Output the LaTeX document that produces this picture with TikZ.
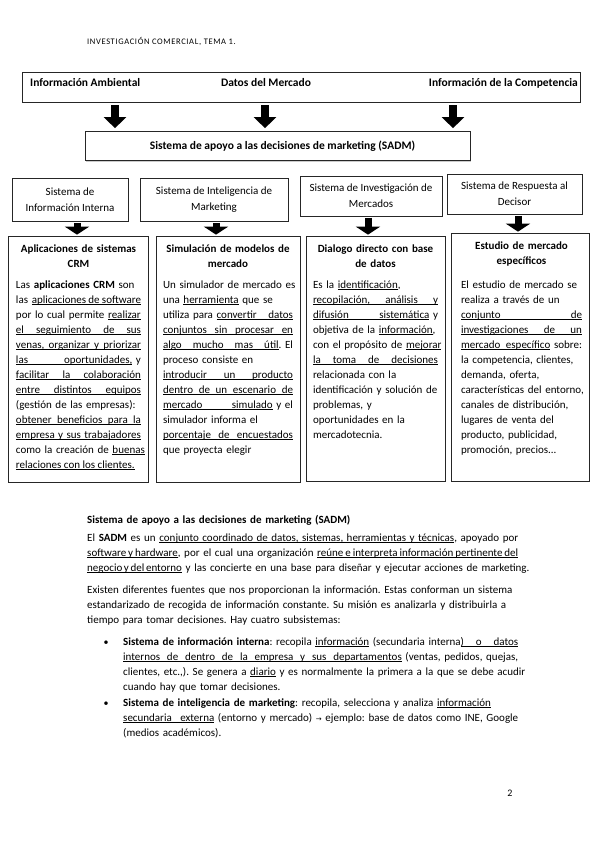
\documentclass[tikz,border=0pt]{standalone}
\usepackage{fontspec}
\setmainfont{Carlito}
\newfontfamily\arrowfont{DejaVu Sans}
\usetikzlibrary{arrows.meta, positioning, calc, shadows}
\frenchspacing

% justified line / centred bold title line
\newcommand\jl[1]{\makebox[\linewidth][s]{#1}}
\newcommand\cl[1]{\makebox[\linewidth]{\textbf{#1}}}
% underline that keeps the spaces stretchable
\def\ulend{}
\def\ulw#1{\setbox0\hbox{#1}\rlap{\vrule width\wd0 height -1.3pt depth 1.75pt}\box0\relax}
\def\ulsp{\leaders\hrule height -1.3pt depth 1.75pt\hskip\fontdimen2\font plus\fontdimen3\font minus\fontdimen4\font}
\def\ulA#1 #2\ulend{\ulw{#1}\ifx\relax#2\relax\else\ulsp\ulA#2\ulend\fi}
\newcommand\undl[1]{\leavevmode\ulA#1 \ulend}

\tikzset{
  framebox/.style={draw=black!85, line width=0.7pt, fill=white, inner sep=0pt,
    drop shadow={shadow xshift=1.1pt, shadow yshift=-1.1pt, fill=black!40}},
  srclabel/.style={font=\fontsize{11.5}{14}\selectfont\bfseries, inner sep=0pt, anchor=base},
  sysbox/.style={framebox, align=center, font=\fontsize{11}{16}\selectfont},
  bigarrow/.style={line width=8.5pt, -{Triangle[length=11pt, width=22pt]}},
  smallarrow/.style={line width=7pt, -{Triangle[length=8pt, width=24pt]}},
  boxtext/.style={inner sep=0pt, anchor=base, align=left, text width=#1,
    font=\fontsize{11}{15}\selectfont},
  pagetext/.style={inner sep=0pt, anchor=base west, align=left, text width=#1,
    font=\fontsize{11}{15}\selectfont},
}

\begin{document}
\begin{tikzpicture}[x=1pt, y=-1pt]
  \path[use as bounding box, fill=white] (0,0) rectangle (599,848);

  \node[anchor=base west, inner sep=0pt, font=\fontsize{8.5}{10}\selectfont\addfontfeature{LetterSpace=7.5}] (hdr) at (87,45)
    {INVESTIGACIÓN COMERCIAL, TEMA 1.};

  % fuentes de informacion
  \node[framebox, minimum width=558, minimum height=30] (env) at (301,87) {};
  \node[srclabel, anchor=base west] (amb) at (30,86.5) {Información Ambiental};
  \node[srclabel] (mkt) at (266,86.5) {Datos del Mercado};
  \node[srclabel, anchor=base east] (comp) at (578,86.5) {Información de la Competencia};

  \node[framebox, minimum width=385, minimum height=29, font=\fontsize{11.5}{14}\selectfont\bfseries] (sadm) at (277.5,146)
    {\hspace*{10pt}Sistema de apoyo a las decisiones de marketing (SADM)};

  \coordinate (x1) at (115,0);
  \coordinate (x2) at (265,0);
  \coordinate (x3) at (453,0);
  \foreach \c in {x1,x2,x3}
    \draw[bigarrow] ($(env.south -| \c)+(0,3)$) -- ($(sadm.north -| \c)+(0,-3)$);

  % subsistemas
  \node[sysbox, minimum width=116, minimum height=43] (intsys) at (70,199.5)
    {Sistema de\\Información Interna};
  \node[sysbox, minimum width=148, minimum height=43] (intel) at (214,199.5)
    {Sistema de Inteligencia de\\Marketing};
  \node[sysbox, minimum width=142, minimum height=40] (invsys) at (371,196)
    {Sistema de Investigación de\\Mercados};
  \node[sysbox, minimum width=135, minimum height=40] (resp) at (514.5,194)
    {Sistema de Respuesta al\\Decisor};

  \node[framebox, minimum width=140, minimum height=246] (crm) at (78,359) {};
  \node[framebox, minimum width=144, minimum height=246] (simul) at (228,359) {};
  \node[framebox, minimum width=139, minimum height=245] (dialog) at (375.5,358.5) {};
  \node[framebox, minimum width=138, minimum height=248] (estudio) at (520,357) {};

  \coordinate (s1) at (77,0);
  \coordinate (s2) at (216,0);
  \coordinate (s3) at (368,0);
  \coordinate (s4) at (518,0);
  \draw[smallarrow] ($(intsys.south -| s1)+(0,1.5)$) -- ($(crm.north -| s1)+(0,-1)$);
  \draw[smallarrow] ($(intel.south -| s2)+(0,1.5)$) -- ($(simul.north -| s2)+(0,-1)$);
  \draw[smallarrow] ($(invsys.south -| s3)+(0,1.5)$) -- ($(dialog.north -| s3)+(0,-1)$);
  \draw[smallarrow] ($(resp.south -| s4)+(0,1.5)$) -- ($(estudio.north -| s4)+(0,-1)$);

  \node[boxtext=125pt] (crmtxt) at (78.5,252) {%
    \cl{Aplicaciones de sistemas}\\
    \cl{CRM}\\[6pt]
    \jl{Las \textbf{aplicaciones CRM} son}\\
    \jl{las \undl{aplicaciones de software}}\\
    \jl{por lo cual permite \undl{realizar}}\\
    \jl{\undl{el seguimiento de sus}}\\
    \jl{\undl{venas, organizar y priorizar}}\\
    \jl{\undl{las oportunidades,} y}\\
    \jl{\undl{facilitar la colaboración}}\\
    \jl{\undl{entre distintos equipos}}\\
    \jl{(gestión de las empresas):}\\
    \jl{\undl{obtener beneficios para la}}\\
    \jl{\undl{empresa y sus trabajadores}}\\
    \jl{como la creación de \undl{buenas}}\\
    \undl{relaciones con los clientes.}};

  \node[boxtext=130pt] (simtxt) at (228,252) {%
    \cl{Simulación de modelos de}\\
    \cl{mercado}\\[6pt]
    \jl{Un simulador de mercado es}\\
    \jl{una \undl{herramienta} que se}\\
    \jl{utiliza para \undl{convertir datos}}\\
    \jl{\undl{conjuntos sin procesar en}}\\
    \jl{\undl{algo mucho mas útil}. El}\\
    \jl{proceso consiste en}\\
    \jl{\undl{introducir un producto}}\\
    \jl{\undl{dentro de un escenario de}}\\
    \jl{\undl{mercado simulado} y el}\\
    \jl{simulador informa el}\\
    \jl{\undl{porcentaje de encuestados}}\\
    que proyecta elegir};

  \node[boxtext=125pt] (diatxt) at (375.5,252) {%
    \cl{Dialogo directo con base}\\
    \cl{de datos}\\[6pt]
    \jl{Es la \undl{identificación},}\\
    \jl{\undl{recopilación, análisis y}}\\
    \jl{\undl{difusión sistemática} y}\\
    \jl{objetiva de la \undl{información},}\\
    \jl{con el propósito de \undl{mejorar}}\\
    \jl{\undl{la toma de decisiones}}\\
    \jl{relacionada con la}\\
    \jl{identificación y solución de}\\
    \jl{problemas, y}\\
    \jl{oportunidades en la}\\
    mercadotecnia.};

  \node[boxtext=121pt] (esttxt) at (521.5,249) {%
    \cl{Estudio de mercado}\\
    \cl{específicos}\\[9pt]
    \jl{El estudio de mercado se}\\
    \jl{realiza a través de un}\\
    \jl{\undl{conjunto de}}\\
    \jl{\undl{investigaciones de un}}\\
    \jl{\undl{mercado específico} sobre:}\\
    \jl{la competencia, clientes,}\\
    \jl{demanda, oferta,}\\
    \jl{características del entorno,}\\
    \jl{canales de distribución,}\\
    \jl{lugares de venta del}\\
    \jl{producto, publicidad,}\\
    promoción, precios...};

  % texto de la pagina
  \node[pagetext=431pt] (head) at (87,523)
    {\textbf{Sistema de apoyo a las decisiones de marketing (SADM)}};
  \node[pagetext=431pt] (par1) at (87,541) {%
    \jl{El \textbf{SADM} es un \undl{conjunto coordinado de datos, sistemas, herramientas y técnicas}, apoyado por}\\
    \jl{\undl{software y hardware}, por el cual una organización \undl{reúne e interpreta información pertinente del}}\\
    \jl{\undl{negocio y del entorno} y las concierte en una base para diseñar y ejecutar acciones de marketing.}};
  \node[pagetext=431pt] (par2) at (87,593) {%
    \jl{Existen diferentes fuentes que nos proporcionan la información. Estas conforman un sistema}\\
    \jl{estandarizado de recogida de información constante. Su misión es analizarla y distribuirla a}\\
    tiempo para tomar decisiones. Hay cuatro subsistemas:};

  \node[anchor=base, inner sep=0pt] (b1) at (106,645) {\textbullet};
  \node[pagetext=395pt] (item1) at (123,645) {%
    \jl{\textbf{Sistema de información interna}: recopila \undl{información} (secundaria interna\undl{) o datos}}\\
    \jl{\undl{internos de dentro de la empresa y sus departamentos} (ventas, pedidos, quejas,}\\
    \jl{clientes, etc.,). Se genera a \undl{diario} y es normalmente la primera a la que se debe acudir}\\
    cuando hay que tomar decisiones.};
  \node[anchor=base, inner sep=0pt] (b2) at (106,706) {\textbullet};
  \node[pagetext=395pt] (item2) at (123,706) {%
    \jl{\textbf{Sistema de inteligencia de marketing}: recopila, selecciona y analiza \undl{información}}\\
    \jl{\undl{secundaria externa} (entorno y mercado) {\arrowfont\scriptsize →} ejemplo: base de datos como INE, Google}\\
    (medios académicos).};

  \node[anchor=base, inner sep=0pt] (pgnum) at (510,796) {2};
\end{tikzpicture}
\end{document}
